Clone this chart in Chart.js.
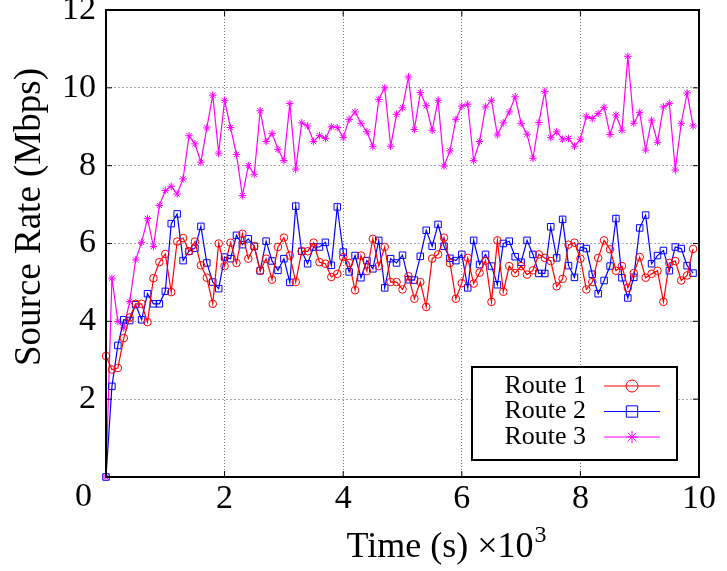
<!DOCTYPE html>
<html>
<head>
<meta charset="utf-8">
<script src="https://cdn.jsdelivr.net/npm/chart.js@4.4.1/dist/chart.umd.min.js"></script>
<style>
    html, body { margin: 0; padding: 0; background: #fff; }
    #wrap { width: 727px; height: 571px; }
</style>
</head>
<body>
<div id="wrap"><canvas id="rateChart" width="727" height="571"></canvas></div>
<script>
// Tiempo (x10^3 s)
const times = [
    0, 0.1, 0.2, 0.3, 0.4, 0.5, 0.6, 0.7, 0.8, 0.9,
    1, 1.1, 1.2, 1.3, 1.4, 1.5, 1.6, 1.7, 1.8, 1.9,
    2, 2.1, 2.2, 2.3, 2.4, 2.5, 2.6, 2.7, 2.8, 2.9,
    3, 3.1, 3.2, 3.3, 3.4, 3.5, 3.6, 3.7, 3.8, 3.9,
    4, 4.1, 4.2, 4.3, 4.4, 4.5, 4.6, 4.7, 4.8, 4.9,
    5, 5.1, 5.2, 5.3, 5.4, 5.5, 5.6, 5.7, 5.8, 5.9,
    6, 6.1, 6.2, 6.3, 6.4, 6.5, 6.6, 6.7, 6.8, 6.9,
    7, 7.1, 7.2, 7.3, 7.4, 7.5, 7.6, 7.7, 7.8, 7.9,
    8, 8.1, 8.2, 8.3, 8.4, 8.5, 8.6, 8.7, 8.8, 8.9,
    9, 9.1, 9.2, 9.3, 9.4, 9.5, 9.6, 9.7, 9.8, 9.9
];

// Source rate (Mbps) por ruta
const route1 = [
    3.11, 2.76, 2.80, 3.57, 4.10, 4.45, 4.45, 3.98, 5.11, 5.52,
    5.73, 4.75, 6.05, 6.14, 5.80, 6.05, 5.44, 5.12, 4.45, 6.00,
    5.42, 6.02, 5.50, 6.25, 5.61, 5.93, 5.30, 5.61, 5.07, 5.91,
    6.15, 5.69, 5.01, 5.80, 5.80, 6.02, 5.52, 5.48, 5.14, 5.22,
    5.65, 5.50, 4.80, 5.69, 5.29, 6.12, 5.42, 5.91, 5.01, 5.01,
    4.82, 5.16, 4.58, 5.01, 4.37, 5.61, 5.72, 6.15, 5.50, 4.58,
    4.98, 5.63, 4.97, 5.25, 5.56, 4.50, 6.08, 4.76, 5.42, 5.24,
    5.42, 5.20, 5.31, 5.72, 5.63, 5.55, 4.90, 5.09, 5.97, 6.02,
    5.61, 4.82, 5.01, 5.63, 6.08, 5.85, 5.30, 5.42, 4.86, 5.24,
    5.65, 5.12, 5.22, 5.30, 4.50, 5.50, 5.55, 5.05, 5.18, 5.86
];
const route2 = [
    0.00, 2.33, 3.38, 4.04, 4.02, 4.43, 4.04, 4.71, 4.45, 4.45,
    4.77, 6.51, 6.76, 5.56, 5.80, 5.88, 6.44, 5.50, 5.01, 4.84,
    5.65, 5.61, 6.21, 5.97, 6.12, 5.93, 5.30, 6.06, 5.55, 5.31,
    5.61, 5.00, 6.96, 5.80, 5.48, 5.91, 5.91, 6.03, 5.44, 6.94,
    5.78, 5.27, 5.69, 5.12, 5.56, 5.35, 6.08, 4.86, 5.61, 5.50,
    5.70, 5.07, 5.06, 5.67, 6.34, 5.93, 6.49, 5.93, 5.62, 5.56,
    5.72, 4.86, 6.08, 5.46, 5.72, 5.42, 4.94, 6.00, 6.06, 5.66,
    5.52, 6.08, 5.72, 5.23, 5.23, 6.43, 5.63, 6.62, 5.43, 5.13,
    5.91, 5.87, 5.21, 4.71, 5.05, 5.42, 6.64, 5.12, 4.60, 5.13,
    6.40, 6.73, 5.48, 5.69, 5.82, 5.30, 5.91, 5.87, 5.43, 5.24
];
const route3 = [
    0.00, 5.11, 4.00, 3.83, 4.51, 5.58, 6.03, 6.64, 5.92, 6.98,
    7.36, 7.47, 7.27, 7.66, 8.77, 8.56, 8.09, 8.97, 9.81, 8.32,
    9.68, 8.98, 8.29, 7.23, 8.00, 7.78, 9.41, 8.62, 8.83, 8.42,
    8.13, 9.60, 7.91, 9.10, 9.02, 8.62, 8.77, 8.70, 9.00, 8.98,
    8.72, 9.19, 9.38, 9.09, 8.87, 8.49, 9.70, 10.00, 8.50, 9.32,
    9.49, 10.28, 8.93, 9.88, 9.54, 8.91, 9.68, 7.99, 8.38, 9.19,
    9.53, 9.58, 8.13, 8.62, 9.51, 9.68, 8.79, 9.10, 9.38, 9.77,
    9.09, 8.81, 8.19, 9.11, 9.91, 8.72, 8.87, 8.68, 8.70, 8.50,
    8.68, 9.27, 9.21, 9.34, 9.50, 8.80, 9.30, 8.91, 10.81, 9.09,
    9.37, 8.40, 9.17, 8.60, 9.51, 9.60, 7.89, 9.09, 9.87, 9.02
];

const routeNames = ['Route 1', 'Route 2', 'Route 3'];
const xTitle = 'Time (s) \u00d710';
const xTitleExp = '3';
const yTitle = 'Source Rate (Mbps)';

const serif = "'Liberation Serif', 'DejaVu Serif', serif";

function makeSet(label, data, color, style, radius) {
    return {
        label: label,
        data: data,
        borderColor: color,
        backgroundColor: 'rgba(0,0,0,0)',
        borderWidth: 1.2,
        pointStyle: style,
        pointRadius: radius,
        pointBorderColor: color,
        pointBackgroundColor: 'rgba(0,0,0,0)',
        pointBorderWidth: 1,
        tension: 0,
        clip: false
    };
}

// marco, ticks interiores, leyenda y títulos estilo gnuplot
const gnuplotDecor = {
    id: 'gnuplotDecor',
    afterDraw(chart) {
        const ctx = chart.ctx;
        const a = chart.chartArea;
        const xs = chart.scales.x, ys = chart.scales.y;
        ctx.save();
        ctx.setLineDash([]);

        // ticks hacia dentro
        ctx.strokeStyle = '#000';
        ctx.lineWidth = 1;
        ctx.beginPath();
        xs.ticks.forEach(t => {
            const px = xs.getPixelForValue(t.value);
            ctx.moveTo(px, a.bottom); ctx.lineTo(px, a.bottom - 6);
            ctx.moveTo(px, a.top); ctx.lineTo(px, a.top + 6);
        });
        ys.ticks.forEach(t => {
            const py = ys.getPixelForValue(t.value);
            ctx.moveTo(a.left, py); ctx.lineTo(a.left + 6, py);
            ctx.moveTo(a.right, py); ctx.lineTo(a.right - 6, py);
        });
        ctx.stroke();

        // marco
        ctx.lineWidth = 2;
        ctx.strokeRect(a.left, a.top, a.right - a.left, a.bottom - a.top);

        // "0" de la esquina
        ctx.fillStyle = '#000';
        ctx.font = '34px ' + serif;
        ctx.textAlign = 'right';
        ctx.textBaseline = 'middle';
        ctx.fillText('0', a.left - 14, a.bottom + 20);

        // leyenda
        const bx = 472, by = 367, bw = 205, bh = 93;
        ctx.fillStyle = '#fff';
        ctx.fillRect(bx, by, bw, bh);
        ctx.lineWidth = 2;
        ctx.strokeStyle = '#000';
        ctx.strokeRect(bx, by, bw, bh);
        ctx.font = '26px ' + serif;
        ctx.textAlign = 'right';
        ctx.textBaseline = 'middle';
        chart.data.datasets.forEach((ds, i) => {
            const ly = by + 19 + i * 25.5;
            ctx.fillStyle = '#000';
            ctx.fillText(ds.label, 586, ly);
            ctx.strokeStyle = ds.borderColor;
            ctx.lineWidth = 1.2;
            ctx.beginPath();
            ctx.moveTo(604, ly); ctx.lineTo(660, ly);
            ctx.stroke();
            ctx.fillStyle = 'rgba(0,0,0,0)';
            ctx.lineWidth = 1;
            Chart.helpers.drawPoint(ctx, {
                pointStyle: ds.pointStyle,
                radius: ds.pointStyle === 'rect' ? 8 : 6,
                borderWidth: 1,
                rotation: 0
            }, 632, ly);
        });

        // título eje x
        ctx.fillStyle = '#000';
        ctx.textBaseline = 'middle';
        ctx.textAlign = 'left';
        ctx.font = '36px ' + serif;
        const w1 = ctx.measureText(xTitle).width;
        ctx.font = '24px ' + serif;
        const w2 = ctx.measureText(xTitleExp).width;
        const x0 = 446 - (w1 + w2) / 2;
        ctx.font = '36px ' + serif;
        ctx.fillText(xTitle, x0, 548);
        ctx.font = '24px ' + serif;
        ctx.fillText(xTitleExp, x0 + w1 + 1, 536);

        // título eje y
        ctx.translate(30, 217);
        ctx.rotate(-Math.PI / 2);
        ctx.font = '37px ' + serif;
        ctx.textAlign = 'center';
        ctx.fillText(yTitle, 0, 0);
        ctx.restore();
    }
};

const ctx = document.getElementById('rateChart').getContext('2d');
new Chart(ctx, {
    type: 'line',
    data: {
        labels: times,
        datasets: [
            makeSet(routeNames[0], route1, '#ff0000', 'circle', 3.8),
            makeSet(routeNames[1], route2, '#0000ff', 'rect', 4.6),
            makeSet(routeNames[2], route3, '#ff00ff', 'star', 3.8)
        ]
    },
    options: {
        responsive: false,
        animation: false,
        devicePixelRatio: 1,
        layout: { padding: { left: 0, right: 28, top: 10, bottom: 0 } },
        plugins: {
            legend: { display: false },
            tooltip: { enabled: false }
        },
        scales: {
            x: {
                type: 'linear',
                min: 0,
                max: 10,
                border: { display: false, dash: [1, 2] },
                grid: { color: '#777', lineWidth: 1, drawTicks: false },
                ticks: {
                    stepSize: 2,
                    padding: 2,
                    color: '#000',
                    font: { family: serif, size: 34 },
                    maxRotation: 0,
                    callback: v => (v === 0 ? '' : v)
                },
                afterFit: s => { s.height = 94; s.paddingLeft = 0; s.paddingRight = 0; }
            },
            y: {
                min: 0,
                max: 12,
                border: { display: false, dash: [2, 2] },
                grid: { color: '#aaa', lineWidth: 1, drawTicks: false },
                ticks: {
                    stepSize: 2,
                    padding: 10,
                    color: '#000',
                    font: { family: serif, size: 34 },
                    callback: v => (v === 0 ? '' : v)
                },
                afterFit: s => { s.width = 106; s.paddingTop = 0; s.paddingBottom = 0; }
            }
        }
    },
    plugins: [gnuplotDecor]
});
</script>
</body>
</html>
